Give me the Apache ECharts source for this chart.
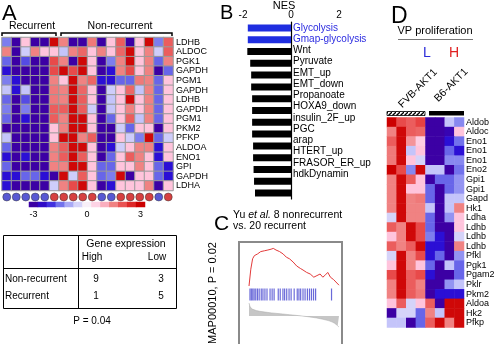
<!DOCTYPE html>
<html>
<head>
<meta charset="utf-8">
<script src="https://cdn.jsdelivr.net/npm/echarts@6/dist/echarts.min.js"></script>
<style>
html, body { margin: 0; padding: 0; background: #fff; }
#fig { width: 494px; height: 344px; }
</style>
</head>
<body>
<div id="fig"></div>
<script>
var FONT = 'Liberation Sans, Arial, sans-serif';

// ---- panel A: glycolysis genes, recurrent vs non-recurrent
var genesA = ['LDHB','ALDOC','PGK1','GAPDH','PGM1','GAPDH','LDHB','GAPDH','PGM1','PKM2','PFKP','ALDOA','ENO1','GPI','GAPDH','LDHA'];
var samplesA = ['R1','R2','R3','R4','R5','R6','N1','N2','N3','N4','N5','N6','N7','N8','N9','N10','N11','N12'];
var exprA = ['L','L','L','L','L','H','H','H','H','H','L','L','H','H','H','H','L','H'];
var valuesA = [
  [-1.4,-3,0.75,-3,-3,2.9,1.5,-3,-3,1.6,-3,0.75,1.9,-3,0.75,2.9,-1.4,1.9],
  [1.5,-3,-0.6,1.5,0.75,0.75,-0.75,1.5,1.8,0.75,1.5,0.75,1.8,2.9,0.75,1.5,-0.6,1.9],
  [-1.6,-3,-1.8,-3,-3,2.1,1.5,-3,2.9,0.75,-3,-1.4,1.5,2.9,0.75,1.5,-1.6,1.5],
  [-2.3,-3,-3,-3,-3,2.1,2.9,2.1,2.9,0.75,-3,-2.3,1.5,2.1,0.75,1.5,-3,-1.6],
  [-1.4,-2.3,-3,-3,-3,1.5,0.75,2.9,1.5,1.8,-2.3,-2.3,-1.6,-1.6,1.6,1.5,-1.6,0.75],
  [-0.75,-2.3,-0.75,-3,-3,1.6,1.5,2.9,1.8,0.75,-3,-0.6,0.75,1.8,-0.75,1.5,-1.6,0.75],
  [-1.6,-3,-1.8,-3,-3,1.6,1.5,2.9,1.9,0.75,-3,-0.75,0.75,2.9,0.75,1.5,-1.6,0.75],
  [-1.4,-3,-1.4,-3,-3,1.9,1.9,2.9,1.9,-0.6,-3,-0.75,0.75,1.5,0.75,1.5,-1.6,0.75],
  [-1.6,-3,-2.3,-3,-3,1.9,1.5,2.9,2.9,0.75,-3,-1.6,0.75,1.9,-0.75,1.5,-1.6,0.75],
  [-3,-3,-3,-3,-3,0.75,1.5,2.9,2.9,0.75,-3,-3,-0.6,-1.6,0.75,0.75,-3,0.75],
  [-0.75,-3,-3,-3,-3,0.75,2.9,2.9,1.5,1.9,-3,-3,0.75,-0.6,-1.4,2.9,-1.6,-0.6],
  [-1.6,-3,-3,-3,-3,1.5,1.9,2.9,2.9,0.75,-3,-2.3,-0.6,0.75,1.5,1.5,-2.3,0.75],
  [-2.3,-3,-2.3,-3,-3,1.5,1.9,2.9,1.9,0.75,-3,-1.6,0.75,1.9,1.5,0.75,-2.3,0.75],
  [-1.6,-3,-3,-3,-3,1.5,1.5,2.9,2.9,0.75,-1.6,-1.6,0.75,0.75,1.5,0.75,-1.6,-2.3],
  [-2.3,-2.3,-1.6,-1.6,-2.3,-3,2.9,-0.6,1.9,0.75,-1.6,-1.4,2.9,-3,0.75,0.75,-1.6,-2.3],
  [-2.3,-3,-3,-3,-3,-0.6,1.5,2.1,2.9,0.75,-3,-2.3,0.75,0.75,0.75,1.5,-3,0.75]
];
var scaleSteps = [-3,-2.5,-2,-1.5,-1,-0.5,0,0.5,1,1.5,2,2.5,3];
var scaleTicks = ['-3','0','3'];
var tableRows = ['Non-recurrent','Recurrent'];
var tableCols = ['High','Low'];
var tableCounts = [[9,3],[1,5]];
var pValueA = 'P = 0.04';

// ---- panel B: NES of gene sets
var setsB = ['Glycolysis','Gmap-glycolysis','Wnt','Pyruvate','EMT_up','EMT_down','Propanoate','HOXA9_down','insulin_2F_up','PGC','arap','HTERT_up','FRASOR_ER_up','hdkDynamin'];
var nesB = [-1.8,-1.8,-1.82,-1.7,-1.66,-1.66,-1.62,-1.62,-1.62,-1.62,-1.58,-1.58,-1.56,-1.54,-1.5];
var blueSetsB = ['Glycolysis','Gmap-glycolysis'];
var nesTicks = [-2,0,2];

// ---- panel C: GSEA enrichment plot
var esRank = [0,2,4,6,7.5,9.4,11,13,17,21,24.5,27,30,34,38,41.5,45,49,53,57,60,64,68,72,74,75.5,77,79,82,85,87.5,90.5,94,96,100];
var esScore = [0,0.21,0.34,0.38,0.375,0.4,0.39,0.43,0.44,0.45,0.46,0.47,0.45,0.43,0.4,0.36,0.34,0.3,0.25,0.22,0.2,0.17,0.15,0.11,0.12,0.13,0.14,0.15,0.11,0.14,0.17,0.11,0.08,0.1,0.01];
var hitRank = [1.1,2.6,4.2,5.7,7.5,9.4,11.3,13.6,15.5,17.7,20,23.4,25.7,27.9,32.5,34.7,37.7,39.6,41.9,44.5,46.8,50.2,53.6,55.5,57.4,60,62.3,64.9,67.2,69.4,71.7,74,91.7];
var metricRank = [0,1,2,3,5,8,12,18,25,35,45,55,65,75,82,88,92,95,97,98.5,100];
var metricScore = [1,0.75,0.62,0.55,0.48,0.42,0.36,0.3,0.24,0.17,0.1,0.03,-0.05,-0.15,-0.25,-0.35,-0.45,-0.55,-0.65,-0.75,-0.85];

// ---- panel D: mouse prostates
var genesD = ['Aldob','Aldoc','Eno1','Eno1','Eno1','Eno2','Gpi1','Gpi1','Gapd','Hk1','Ldha','Ldhb','Ldhb','Ldhb','Pfkl','Pgk1','Pgam2','Pklr','Pkm2','Aldoa','Hk2','Pfkp'];
var samplesD = ['F1','F2','F3','F4','B1','B2','B3','B4'];
var valuesD = [
  [3,2.1,1.9,2.2,-3,-3,-0.75,-1.3],
  [1.5,2.9,1.9,1.8,-3,-3,-2.8,0.75],
  [1.9,2.9,1.3,0.6,-3,-3,-2.3,-1.5],
  [1.6,2.9,-0.75,0.75,-3,-3,-1.6,-2.3],
  [1.6,2.9,0.75,-0.5,-3,-3,-1.3,-1.3],
  [3,2.1,-1.3,2.9,-0.75,-0.75,-3,-1.5],
  [1.5,2.9,1.9,0.75,-3,-1.6,-1.6,-1.2],
  [1.5,2.9,0.75,0.75,-1.6,-3,-1.6,-1.2],
  [1.5,2.9,1.5,1.6,-1.6,-3,-0.75,-0.75],
  [1.5,2.9,1.5,1.5,-0.75,-3,-0.75,1.5],
  [-0.5,2.9,1.5,1.5,-1.6,-3,-1.2,0.75],
  [1.9,1.5,2.9,2.1,-1.6,-3,-3,0.75],
  [0.75,1.5,2.9,2.1,-1.4,-2.3,-3,-0.5],
  [1.9,1.5,1.9,2.9,-2.3,-2.3,-3,1.5],
  [-0.5,2.9,1.5,2.1,-2.3,-1.6,-3,-1.2],
  [0.75,2.9,1.5,0.75,-1.6,-3,-0.75,-1.6],
  [2.1,2.9,1.9,2.1,-2.3,-3,-3,-1.6],
  [1.5,2.9,1.9,1.5,-3,-3,-1.2,-0.75],
  [1.5,2.9,1.9,1.6,-3,-2.3,-2.3,-2.3],
  [0.75,1.9,-0.5,0.75,1.9,-3,2.9,2.9],
  [-3,-0.5,-0.5,-1.6,1.5,-0.75,2.9,2.9],
  [-0.75,-0.75,-3,-1.6,1.9,2.9,1.5,2.9]
];

function cells(matrix) {
  var out = [];
  matrix.forEach(function (row, r) {
    row.forEach(function (v, c) { out.push([c, r, v]); });
  });
  return out;
}

// hatch pattern for the FVB bar
var hatch = document.createElement('canvas');
hatch.width = 4; hatch.height = 4;
var hg = hatch.getContext('2d');
hg.fillStyle = '#fff'; hg.fillRect(0, 0, 4, 4);
hg.strokeStyle = '#000'; hg.lineWidth = 1.3;
hg.beginPath(); hg.moveTo(-1, 5); hg.lineTo(5, -1); hg.stroke();

function txt(x, y, s, size, o) {
  o = o || {};
  return {
    type: 'text', x: x, y: y, rotation: o.rot || 0, z: 10,
    style: {
      text: s, fontSize: size, fontFamily: FONT, fill: o.color || '#000',
      align: o.align || 'center', verticalAlign: o.va || 'middle', rich: o.rich
    }
  };
}
function pl(pts, w, color) {
  return { type: 'polyline', z: 10, shape: { points: pts }, style: { stroke: color || '#000', lineWidth: w || 1, fill: null } };
}

var g = [];
// A
g.push(txt(2, 13.5, 'A', 22, { align: 'left' }));
g.push(txt(32, 26, 'Recurrent', 10.5));
g.push(txt(120, 26, 'Non-recurrent', 10.5));
g.push(pl([[2, 36], [2, 33], [56, 33], [56, 36]], 1.5));
g.push(pl([[61, 36], [61, 33], [172, 33], [172, 36]], 1.5));
g.push({ type: 'rect', z: 10, shape: { x: 3.5, y: 235.5, width: 173, height: 73 }, style: { fill: null, stroke: '#000', lineWidth: 1 } });
g.push(pl([[78.5, 235.5], [78.5, 308.5]], 1));
g.push(pl([[3.5, 268.5], [176.5, 268.5]], 1));
g.push(txt(126, 244, 'Gene expression', 10.5));
var colX = [92, 157], rowY = [279, 296];
tableCols.forEach(function (c, j) { g.push(txt(colX[j], 257, c, 10)); });
tableRows.forEach(function (r, i) {
  g.push(txt(5, rowY[i], r, 10, { align: 'left' }));
  tableCounts[i].forEach(function (n, j) { g.push(txt(colX[j] + 4, rowY[i], String(n), 10)); });
});
g.push(txt(92, 321, pValueA, 10));
// B
g.push(txt(220, 13.5, 'B', 20, { align: 'left' }));
g.push(txt(284, 5.5, 'NES', 11));
// C
g.push({ type: 'rect', z: 0, shape: { x: 239, y: 242, width: 103, height: 106 }, style: { fill: '#fff', stroke: '#8a8a8a', lineWidth: 2 } });
g.push(txt(214, 224, 'C', 21, { align: 'left' }));
g.push(txt(233, 215, '{n|Yu }{i|et al.}{n| 8 nonrecurrent}', 10.5, {
  align: 'left',
  rich: {
    n: { fontSize: 10.5, fontFamily: FONT, fill: '#000' },
    i: { fontSize: 10.5, fontFamily: FONT, fontStyle: 'italic', fill: '#000' }
  }
}));
g.push(txt(233, 226, 'vs. 20 recurrent', 10.5, { align: 'left' }));
g.push(txt(213, 293, 'MAP00010, P = 0.02', 11, { rot: Math.PI / 2 }));
// D
g.push(txt(391, 17, 'D', 23, { align: 'left' }));
g.push(txt(435, 31, 'VP proliferation', 11));
g.push(pl([[398, 39.5], [473, 39.5]], 1, '#777'));
g.push(txt(427, 53, 'L', 14, { color: '#2b2bd8' }));
g.push(txt(454, 53, 'H', 14, { color: '#e02020' }));
g.push(txt(404, 110, 'FVB-AKT1', 10.5, { rot: Math.PI / 4, align: 'left', va: 'bottom' }));
g.push(txt(440, 104, 'B6-AKT1', 10.5, { rot: Math.PI / 4, align: 'left', va: 'bottom' }));
g.push({ type: 'rect', z: 10, shape: { x: 387, y: 111.5, width: 38, height: 4 }, style: { fill: { image: hatch, repeat: 'repeat' }, stroke: '#000', lineWidth: 0.8 } });
g.push({ type: 'rect', z: 10, shape: { x: 429, y: 111, width: 35, height: 4.5 }, style: { fill: '#000' } });

var hidden = { show: false };
function box(o) { o.outerBoundsMode = 'none'; o.containLabel = false; return o; }

var chart = echarts.init(document.getElementById('fig'));
var option = {
  animation: false,
  textStyle: { fontFamily: FONT },
  visualMap: {
    type: 'continuous', show: false, min: -3, max: 3, dimension: 2, seriesIndex: [0, 2, 7],
    inRange: { color: ['#3c00a4', '#2a10d8', '#7272ec', '#c4c4fa', '#f8f0f8', '#ffc4dc', '#f08282', '#e63c3c', '#cc0000'] }
  },
  grid: [
    box({ left: 2, top: 37.5, width: 171, height: 153 }),
    box({ left: 2, top: 192, width: 171, height: 10 }),
    box({ left: 29, top: 202, width: 116, height: 5 }),
    box({ left: 243, top: 22, width: 96, height: 177 }),
    box({ left: 292, top: 22.4, width: 60, height: 157.2 }),
    box({ left: 249, top: 246, width: 90, height: 40, show: true, borderColor: '#ccc', borderWidth: 0.5 }),
    box({ left: 249, top: 288, width: 90, height: 13 }),
    box({ left: 249, top: 303, width: 90, height: 26, show: true, borderColor: '#ccc', borderWidth: 0.5 }),
    box({ left: 387, top: 117.5, width: 77, height: 210 })
  ],
  xAxis: [
    { gridIndex: 0, type: 'category', data: samplesA, show: false },
    { gridIndex: 1, type: 'category', data: samplesA, show: false },
    {
      gridIndex: 2, type: 'category', data: scaleSteps.map(String),
      axisLine: hidden,
      axisTick: { length: 2, alignWithLabel: true, lineStyle: { color: '#000' },
        interval: function (i, v) { return scaleTicks.indexOf(v) >= 0; } },
      axisLabel: { fontSize: 9, margin: 3, color: '#000',
        interval: function (i, v) { return scaleTicks.indexOf(v) >= 0; } }
    },
    {
      gridIndex: 3, type: 'value', position: 'top', min: -2, max: 2, interval: 1,
      axisLine: { lineStyle: { color: '#000', width: 1 } },
      axisTick: { length: 3, lineStyle: { color: '#000' } },
      axisLabel: { fontSize: 10, margin: 2, color: '#000',
        formatter: function (v) { return nesTicks.indexOf(v) >= 0 ? String(v) : ''; } },
      splitLine: hidden
    },
    { gridIndex: 4, type: 'value', min: 0, max: 1, show: false },
    { gridIndex: 5, type: 'value', min: 0, max: 100, show: false },
    { gridIndex: 6, type: 'value', min: 0, max: 100, show: false },
    { gridIndex: 7, type: 'value', min: 0, max: 100, show: false },
    { gridIndex: 8, type: 'category', data: samplesD, show: false }
  ],
  yAxis: [
    {
      gridIndex: 0, type: 'category', data: genesA, inverse: true, position: 'right',
      axisLine: hidden, axisTick: hidden,
      axisLabel: { fontSize: 9, margin: 3, color: '#000', interval: 0 }
    },
    { gridIndex: 1, type: 'value', min: -1, max: 1, show: false },
    { gridIndex: 2, type: 'category', data: [''], show: false },
    {
      gridIndex: 3, type: 'category', inverse: true,
      data: nesB.map(function (v, i) { return setsB[i] || ''; }),
      axisLine: { onZero: true, lineStyle: { color: '#000', width: 1.2 } },
      axisTick: hidden, axisLabel: hidden
    },
    {
      gridIndex: 4, type: 'category', data: setsB, inverse: true, position: 'left',
      axisLine: hidden, axisTick: hidden,
      axisLabel: { inside: true, margin: 1, fontSize: 10, interval: 0,
        color: function (v) { return blueSetsB.indexOf(v) >= 0 ? '#2b2be0' : '#000'; } }
    },
    { gridIndex: 5, type: 'value', min: 0, max: 0.5, show: false },
    { gridIndex: 6, type: 'value', min: -1, max: 1, show: false },
    { gridIndex: 7, type: 'value', min: -1, max: 1, show: false },
    {
      gridIndex: 8, type: 'category', data: genesD, inverse: true, position: 'right',
      axisLine: hidden, axisTick: hidden,
      axisLabel: { fontSize: 9, margin: 2, color: '#000', interval: 0 }
    }
  ],
  series: [
    {
      type: 'heatmap', xAxisIndex: 0, yAxisIndex: 0, data: cells(valuesA),
      itemStyle: { borderColor: '#9a9a9a', borderWidth: 1 }, emphasis: { disabled: true }
    },
    {
      type: 'scatter', xAxisIndex: 1, yAxisIndex: 1, symbolSize: 8,
      data: exprA.map(function (e, i) {
        return { value: [i, 0], itemStyle: { color: e === 'H' ? '#cc1010' : '#2e2ec8' } };
      }),
      itemStyle: { borderColor: '#333', borderWidth: 0.6 }
    },
    {
      type: 'heatmap', xAxisIndex: 2, yAxisIndex: 2,
      data: scaleSteps.map(function (v, i) { return [i, 0, v]; }), emphasis: { disabled: true }
    },
    {
      type: 'bar', xAxisIndex: 3, yAxisIndex: 3, barWidth: 7, data: nesB,
      itemStyle: {
        color: function (p) { return blueSetsB.indexOf(setsB[p.dataIndex]) >= 0 ? '#1f2ee0' : '#000'; }
      }
    },
    {
      type: 'line', xAxisIndex: 5, yAxisIndex: 5, showSymbol: false,
      data: esRank.map(function (r, i) { return [r, esScore[i]]; }),
      lineStyle: { color: '#e23a3a', width: 1 }
    },
    {
      type: 'scatter', xAxisIndex: 6, yAxisIndex: 6, symbol: 'rect', symbolSize: [1.2, 12],
      data: hitRank.map(function (r) { return [r, 0]; }),
      itemStyle: { color: '#4545d0' }
    },
    {
      type: 'line', xAxisIndex: 7, yAxisIndex: 7, showSymbol: false,
      data: metricRank.map(function (r, i) { return [r, metricScore[i]]; }),
      lineStyle: { color: '#aaa', width: 0.5 }, areaStyle: { color: '#c6c6c6', opacity: 1 }
    },
    {
      type: 'heatmap', xAxisIndex: 8, yAxisIndex: 8, data: cells(valuesD), emphasis: { disabled: true }
    }
  ],
  graphic: g
};
chart.setOption(option);
</script>
</body>
</html>
